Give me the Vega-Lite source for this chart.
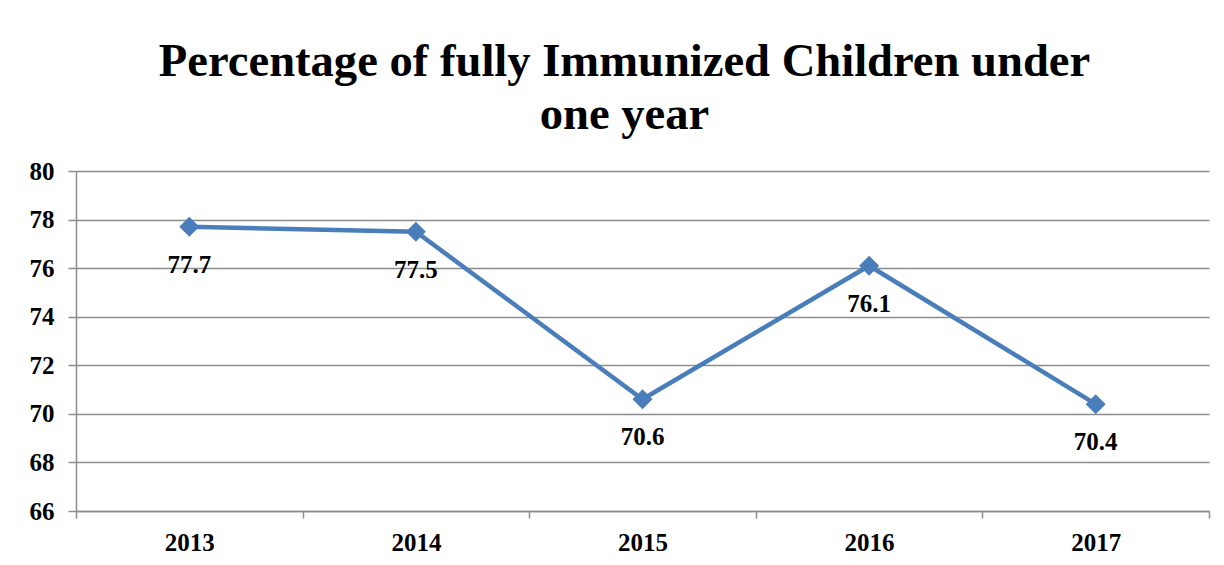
{
  "$schema": "https://vega.github.io/schema/vega-lite/v6.json",
  "width": 1133,
  "height": 340,
  "autosize": {"type": "none"},
  "padding": {"left": 76, "top": 171, "right": 15, "bottom": 54},
  "background": "white",
  "title": {
    "text": ["Percentage of fully Immunized Children under", "one year"],
    "font": "Liberation Serif",
    "fontSize": 46.6,
    "fontWeight": "bold",
    "color": "black",
    "lineHeight": 53,
    "anchor": "middle",
    "dx": -18,
    "offset": 20
  },
  "data": {
    "values": [
      {"year": "2013", "value": 77.7},
      {"year": "2014", "value": 77.5},
      {"year": "2015", "value": 70.6},
      {"year": "2016", "value": 76.1},
      {"year": "2017", "value": 70.4}
    ]
  },
  "encoding": {
    "x": {
      "field": "year",
      "type": "ordinal",
      "scale": {"type": "band", "paddingInner": 0, "paddingOuter": 0},
      "axis": {
        "title": null,
        "labelAngle": 0,
        "tickBand": "extent",
        "tickColor": "#8c8c8c",
        "tickSize": 7,
        "tickWidth": 1.5,
        "domainColor": "#8c8c8c",
        "domainWidth": 1.5,
        "labelFont": "Liberation Serif",
        "labelFontSize": 25,
        "labelFontWeight": "bold",
        "labelColor": "black",
        "labelPadding": 12,
        "grid": false
      }
    },
    "y": {
      "field": "value",
      "type": "quantitative",
      "scale": {"domain": [66, 80], "nice": false, "zero": false},
      "axis": {
        "title": null,
        "values": [66, 68, 70, 72, 74, 76, 78, 80],
        "tickColor": "#8c8c8c",
        "tickSize": 8,
        "tickWidth": 1.5,
        "domainColor": "#8c8c8c",
        "domainWidth": 1.5,
        "gridColor": "#8c8c8c",
        "gridWidth": 1.5,
        "labelFont": "Liberation Serif",
        "labelFontSize": 25,
        "labelFontWeight": "bold",
        "labelColor": "black",
        "labelPadding": 14
      }
    }
  },
  "layer": [
    {
      "mark": {
        "type": "line",
        "color": "#4A7EBB",
        "strokeWidth": 4.5,
        "point": {"shape": "diamond", "size": 400, "filled": true, "color": "#4A7EBB", "opacity": 1}
      }
    },
    {
      "mark": {
        "type": "text",
        "font": "Liberation Serif",
        "fontSize": 25,
        "fontWeight": "bold",
        "color": "black",
        "baseline": "middle",
        "align": "center",
        "dy": 38
      },
      "encoding": {"text": {"field": "value", "type": "quantitative", "format": ".1f"}}
    }
  ],
  "config": {"view": {"stroke": null}}
}
